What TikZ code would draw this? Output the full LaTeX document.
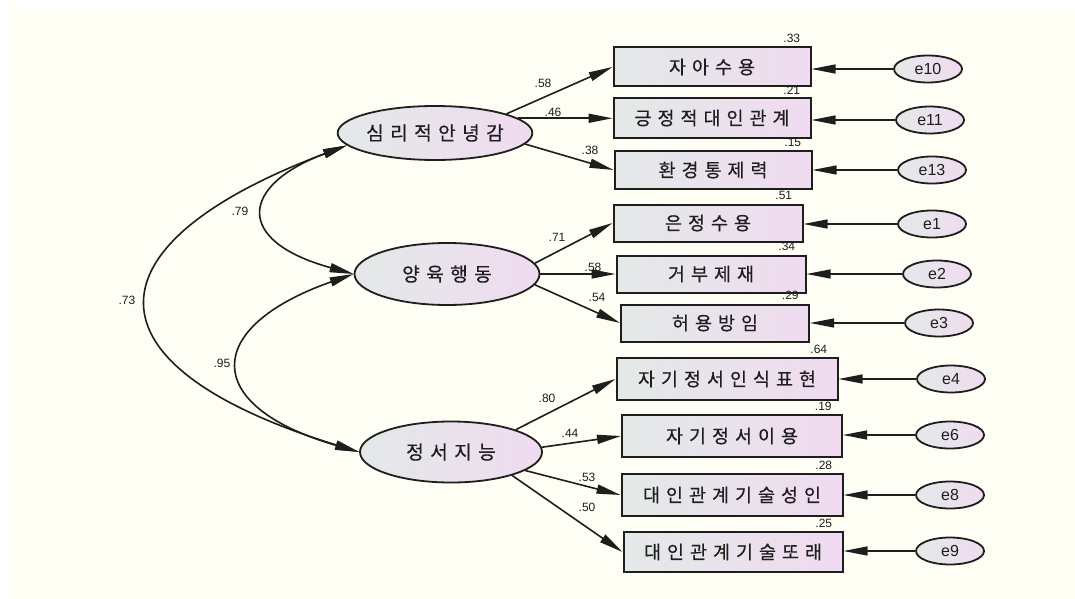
\documentclass[tikz,border=0pt]{standalone}
\usepackage{fontspec}
\setmainfont{Liberation Sans}
\newfontfamily\kr[LetterSpace=33,FakeBold=0.5]{Noto Sans CJK KR}
\usepackage{tikz}
\usetikzlibrary{
  calc,arrows.meta,shapes.geometric,positioning
}
\definecolor{ivory}{RGB}{254,254,244}
\definecolor{fillL}{RGB}{228,233,232}
\definecolor{fillR}{RGB}{240,219,240}
\definecolor{ink}{RGB}{30,30,30}
\tikzset{
  latent/.style={ellipse,draw=ink,line width=0.9pt,left color=fillL,right color=fillR,
    inner sep=0pt,text=ink,font=\kr\fontsize{9.6}{11}\selectfont},
  obs/.style={rectangle,draw=ink,line width=1pt,left color=fillL,right color=fillR,
    inner sep=0pt,text=ink,font=\kr\fontsize{9.2}{11}\selectfont},
  err/.style={ellipse,draw=ink,line width=0.9pt,left color=fillL,right color=fillR,
    inner sep=0pt,minimum width=34pt,minimum height=13.5pt,text=ink,font=\fontsize{8}{9}\selectfont},
  coef/.style={inner sep=0pt,text=ink,font=\fontsize{6}{7}\selectfont},
  rsq/.style={coef,anchor=south east}
}
\tikzstyle{load} = [line width=0.8pt,ink,-{Triangle[length=12pt,width=4.5pt]}]
\tikzstyle{cov} = [line width=0.8pt,ink,{Triangle[length=12pt,width=4.5pt]}-{Triangle[length=12pt,width=4.5pt]}]
\tikzstyle{res} = [line width=0.6pt,ink,-{Triangle[length=12pt,width=4.5pt]}]

\begin{document}
\begin{tikzpicture}[x=0.5pt,y=-0.5pt]
  \useasboundingbox (0,0) rectangle (1075,599);
  \fill[ivory] (9,7) rectangle (1075,599);

  % latent variables
  \node[latent,minimum width=97pt,minimum height=27pt] (psy) at (435,133) {심리적안녕감};
  \node[latent,minimum width=92.5pt,minimum height=31pt] (par) at (447,274) {양육행동};
  \node[latent,minimum width=91pt,minimum height=30.5pt] (emo) at (451,452) {정서지능};

  % observed variables
  \node[obs,minimum width=98.5pt,minimum height=19.5pt] (b1) at (712,67) {자아수용};
  \node[obs,minimum width=98.5pt,minimum height=19.5pt] (b2) at (712,118) {긍정적대인관계};
  \node[obs,minimum width=98.5pt,minimum height=19pt] (b3) at (713,170) {환경통제력};
  \node[obs,minimum width=94.5pt,minimum height=18.5pt] (b4) at (708,223) {은정수용};
  \node[obs,minimum width=94.5pt,minimum height=18.5pt] (b5) at (711,274) {거부제재};
  \node[obs,minimum width=94pt,minimum height=18.5pt] (b6) at (715,323) {허용방임};
  \node[obs,minimum width=110.5pt,minimum height=21pt] (b7) at (727,379) {자기정서인식표현};
  \node[obs,minimum width=110pt,minimum height=21pt] (b8) at (732,436) {자기정서이용};
  \node[obs,minimum width=110.5pt,minimum height=21pt] (b9) at (732,495) {대인관계기술성인};
  \node[obs,minimum width=109.5pt,minimum height=20pt] (b10) at (733,552) {대인관계기술또래};

  % loadings
  \draw[load] (psy.15) -- (b1.west);
  \draw[load] (psy.10) -- (psy.10 -| b2.west);
  \draw[load] (psy.-7) -- (b3.west);
  \draw[load] (par.7) -- (b4.west);
  \draw[load] (par) -- (b5.west);
  \draw[load] (par.-7) -- (b6.west);
  \draw[load] (emo.19) -- (b7.west);
  \draw[load] (emo.3) -- (b8.west);
  \draw[load] (emo.-14) -- (b9.west);
  \draw[load] (emo.-21) -- (b10.west);

  % error terms
  \foreach \e/\b/\x/\y in {e10/b1/928/69, e11/b2/930/120, e13/b3/932/170,
    e1/b4/932/224, e2/b5/937/274, e3/b6/939/323,
    e4/b7/951/379, e6/b8/950/435, e8/b9/950/495, e9/b10/950/551}
  {
    \node[err] (\e) at (\x,\y) {\e};
    \draw[res] (\e) -- (\e -| \b.east);
  }

  % covariances
  \draw[cov] (psy.188) .. controls ($(psy.188)+(-107,40)$) and ($(par.west)+(-120,-33)$) .. (par.west);
  \draw[cov] (par.west) .. controls ($(par.west)+(-151,53)$) and ($(emo.west)+(-159,-46)$) .. (emo.west);
  \draw[cov] (psy.188) .. controls ($(psy.188)+(-261,98)$) and ($(emo.west)+(-283,-87)$) .. (emo.west);

  % coefficients
  \foreach \n/\x/\y/\v in {c1/543/83/.58, c2/553/112/.46, c3/590/150/.38,
    c4/557/237/.71, c5/593/267/.58, c6/597/297/.54,
    c7/547/398/.80, c8/570/433/.44, c9/587/477/.53, c10/587/507/.50,
    k1/240/211/.79, k2/127/300/.73, k3/222/363/.95}
    \node[coef] (\n) at (\x,\y) {\v};

  % squared multiple correlations
  \foreach \b/\v in {b1/.33, b2/.21, b3/.15, b4/.51, b5/.34, b6/.29,
    b7/.64, b8/.19, b9/.28, b10/.25}
    \node[rsq] (r\b) at ([xshift=-5.5pt,yshift=1.5pt]\b.north east) {\v};
\end{tikzpicture}
\end{document}
